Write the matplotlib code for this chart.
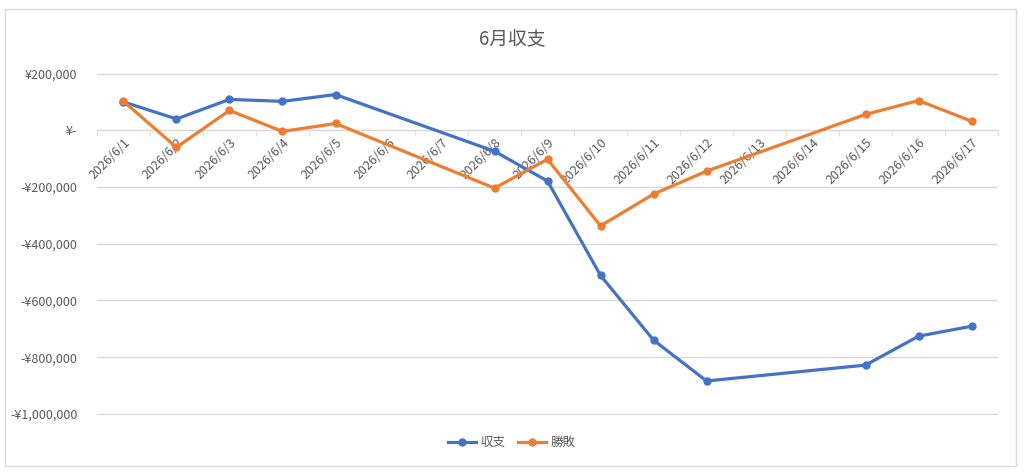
import numpy as np
import matplotlib.pyplot as plt
from matplotlib.patches import Rectangle
from matplotlib.ticker import FuncFormatter

plt.rcParams['font.family'] = ['Noto Sans CJK JP', 'DejaVu Sans']

# データ
dates = ['2026/6/%d' % d for d in range(1, 18)]
shushi = [100000, 40000, 109000, 102000, 126000, np.nan, np.nan, -74000, -179000,
          -512000, -740000, -884000, np.nan, np.nan, -828000, -726000, -691000]
shouhai = [102000, -60000, 70000, -4000, 24000, np.nan, np.nan, -204000, -102000,
           -337000, -225000, -144000, np.nan, np.nan, 56000, 105000, 32000]
yticks = [200000, 0, -200000, -400000, -600000, -800000, -1000000]

gray = '#595959'
grid = '#d9d9d9'

fig = plt.figure(figsize=(10.24, 4.75), dpi=100)
ax = fig.add_axes([0.0947, 0.1263, 0.88, 0.72])

x = np.arange(len(dates))
for vals, color, name in [(shushi, '#4472C4', '収支'), (shouhai, '#ED7D31', '勝敗')]:
    v = np.array(vals, dtype=float)
    ok = ~np.isnan(v)
    ax.plot(x[ok], v[ok], color=color, lw=2.3, marker='o', ms=5, label=name,
            solid_joinstyle='round', zorder=3)

ax.set_xlim(-0.5, len(dates) - 0.5)
ax.set_ylim(-1004000, 202000)


def yen(v, pos):
    if v == 0:
        return '¥-'
    s = '¥{:,.0f}'.format(abs(v))
    return '-' + s if v < 0 else s


ax.set_yticks(yticks)
ax.yaxis.set_major_formatter(FuncFormatter(yen))
ax.tick_params(axis='y', length=0, labelsize=9, labelcolor=gray, pad=14)
ax.grid(axis='y', color=grid, lw=1)
ax.set_axisbelow(True)

for s in ['top', 'right', 'left']:
    ax.spines[s].set_visible(False)
ax.spines['bottom'].set_position(('data', 0))
ax.spines['bottom'].set_color(grid)

ax.set_xticks(x)
ax.set_xticklabels(dates, rotation=45, ha='right', va='top', rotation_mode='anchor')
ax.set_xticks(np.arange(len(dates) + 1) - 0.5, minor=True)
ax.tick_params(axis='x', which='major', length=0, labelsize=9, labelcolor=gray, pad=4)
ax.tick_params(axis='x', which='minor', length=4, color=grid)

fig.text(0.5, 0.918, '6月収支', ha='center', va='center', fontsize=13.5, color=gray)
fig.legend(loc='center', bbox_to_anchor=(0.5, 0.068), ncol=2, frameon=False,
           fontsize=9, labelcolor=gray, handlelength=2.2, columnspacing=1.0,
           handletextpad=0.4)

fig.patches.append(Rectangle((0.005, 0.018), 0.987, 0.963, transform=fig.transFigure,
                             fill=False, edgecolor=grid, lw=1))

fig.savefig('out.png', dpi=100)
